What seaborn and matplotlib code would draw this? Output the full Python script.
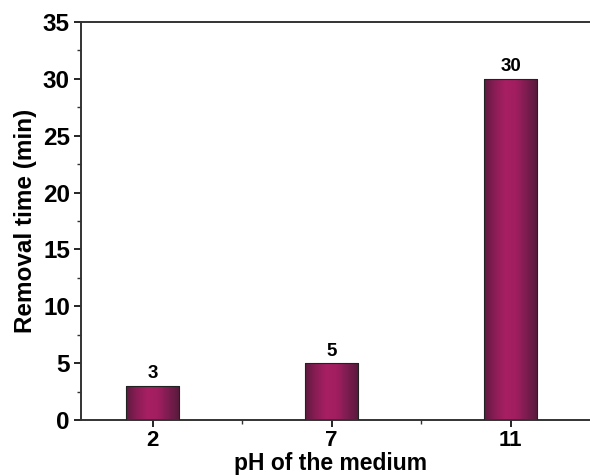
import numpy as np
import pandas as pd
import matplotlib
matplotlib.use("Agg")
import matplotlib.pyplot as plt
from matplotlib.colors import LinearSegmentedColormap
from matplotlib.ticker import MultipleLocator
import seaborn as sns

categories = ["2", "7", "11"]
values = [3, 5, 30]
yticks = [0, 5, 10, 15, 20, 25, 30, 35]

sns.set_theme(style="ticks")
plt.rcParams['font.family'] = ['Liberation Sans', 'DejaVu Sans']
plt.rcParams['font.weight'] = 'bold'
plt.rcParams['text.color'] = 'black'
plt.rcParams['axes.labelcolor'] = 'black'

fig = plt.figure(figsize=(5.9, 4.75), dpi=100)
W, H = 590, 475
left, right, top, bottom = 81, 618, 22, 420
ax = fig.add_axes([left / W, (H - bottom) / H, (right - left) / W, (bottom - top) / H])

df = pd.DataFrame({"pH": categories, "time": values})
sns.barplot(data=df, x="pH", y="time", ax=ax, width=0.3, color="#9c1f5c",
            edgecolor="#222222", linewidth=0.8, zorder=2)

ax.set_xlim(-0.4, 2.6)
ax.set_ylim(0, 35)

cmap = LinearSegmentedColormap.from_list(
    "g", ["#5e1a40", "#8a1d55", "#a81f64", "#a01e60", "#7a1c4e", "#561a3a"])
grad = np.linspace(0, 1, 256).reshape(1, -1)
for p in ax.patches:
    x0, y0 = p.get_x(), p.get_y()
    w, h = p.get_width(), p.get_height()
    im = ax.imshow(grad, cmap=cmap, aspect="auto", extent=[x0, x0 + w, y0, y0 + h],
                   zorder=2.5, interpolation="bicubic")
    im.set_clip_path(p)
    p.set_facecolor("none")
    p.set_zorder(3)

for i, v in enumerate(values):
    ax.text(i, v + 0.3, str(v), ha="center", va="bottom", fontsize=13.5,
            fontweight="bold", color="black")

ax.set_yticks(yticks)
ax.yaxis.set_minor_locator(MultipleLocator(2.5))
ax.set_xticks(range(len(categories)))
ax.set_xticklabels(categories)
ax.set_xticks([0.5, 1.5], minor=True)
ax.tick_params(axis="both", which="major", direction="out", length=5, width=1.2,
               colors="black")
ax.tick_params(axis="y", which="major", labelsize=17.5, pad=3)
ax.tick_params(axis="x", which="major", labelsize=16, pad=2.5)
ax.tick_params(axis="both", which="minor", direction="out", length=3, width=1,
               colors="#333333")
for lab in ax.get_xticklabels() + ax.get_yticklabels():
    lab.set_fontweight("bold")

for s in ["left", "bottom", "top", "right"]:
    ax.spines[s].set_visible(True)
    ax.spines[s].set_color("#333333")
    ax.spines[s].set_linewidth(1.4)

ax.set_xlabel("pH of the medium", fontsize=16.5, fontweight="bold", color="black")
ax.xaxis.label.set_verticalalignment("baseline")
ax.xaxis.set_label_coords((331 - left) / (right - left), -(470 - bottom) / (bottom - top))
ax.set_ylabel("Removal time (min)", fontsize=17.5, fontweight="bold", labelpad=4,
              color="black")

fig.savefig("out.png", dpi=100)
